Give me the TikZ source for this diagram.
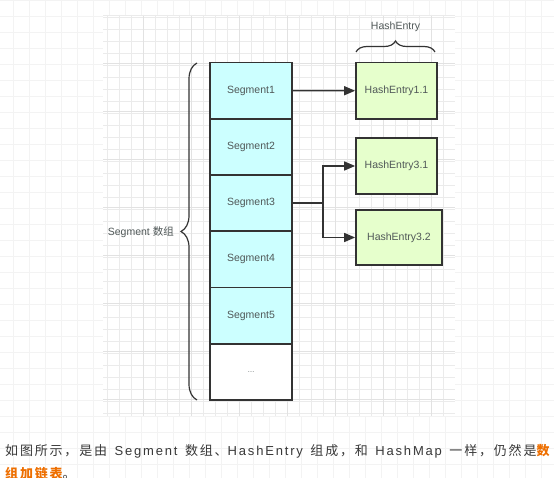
\documentclass[tikz,border=0pt]{standalone}
\usepackage{fontspec}
\setmainfont{Liberation Sans}
\newfontfamily\cjk{Noto Sans CJK SC}
\newfontfamily\zhwide[LetterSpace=14]{Noto Sans CJK SC}
\newfontfamily\enwide[LetterSpace=14]{Liberation Sans}
\usetikzlibrary{arrows.meta}
\usetikzlibrary{decorations.pathreplacing}
\usetikzlibrary{calc}
\definecolor{segfill}{HTML}{CCFFFF}
\definecolor{entryfill}{HTML}{E6FFCC}
\definecolor{boxline}{HTML}{333333}
\definecolor{labeltext}{HTML}{505858}
\definecolor{bodytext}{HTML}{383838}
\definecolor{accent}{HTML}{EE6F00}
\definecolor{pagegrid}{HTML}{F3F3F3}
\definecolor{canvasgrid}{HTML}{EBEBEB}
\definecolor{canvasmajor}{HTML}{E2E2E2}
\tikzstyle{segbox}=[rectangle,draw=boxline,line width=1.7pt,fill=segfill,minimum width=82pt,minimum height=56.25pt,inner sep=0pt,text=labeltext,font=\fontsize{10.5}{12}\selectfont]
\tikzstyle{entrybox}=[rectangle,draw=boxline,line width=1.7pt,fill=entryfill,inner sep=0pt,text=labeltext,font=\fontsize{10.5}{12}\selectfont]
\tikzstyle{link} = [draw,line width=1.5pt,boxline,-{Triangle[length=11pt,width=9pt]}]
\tikzstyle{bracket} = [draw,line width=1.2pt,boxline,decorate]
\tikzstyle{caption} = [text=labeltext,font=\fontsize{10.5}{12}\selectfont,inner sep=0pt]

\begin{document}
\begin{tikzpicture}[x=1pt,y=-1pt]
    \useasboundingbox (0,0) rectangle (554,478);
    % page background with its faint grid
    \fill[white] (0,0) rectangle (554,478);
    \foreach \gx in {13,29,...,554}
        \draw[pagegrid,line width=0.8pt] (\gx,0) -- (\gx,478);
    \foreach \gy in {0,16,...,478}
        \draw[pagegrid,line width=0.8pt] (0,\gy) -- (554,\gy);
    % the drawing canvas with its own grid
    \fill[white] (103,15) rectangle (455,416);
    \foreach \gx in {107,119,...,443}
        \draw[canvasgrid,line width=0.7pt] (\gx,15) -- (\gx,416);
    \foreach \gy in {17,29,...,413}
        \draw[canvasgrid,line width=0.7pt] (103,\gy) -- (455,\gy);
    \foreach \gx in {143,191,...,443}
        \draw[canvasmajor,line width=0.8pt] (\gx,15) -- (\gx,416);
    \foreach \gy in {63,111,...,413}
        \draw[canvasmajor,line width=0.8pt] (103,\gy) -- (455,\gy);
    \draw[canvasgrid,line width=0.8pt] (103,15) -- (455,15);

    % First we draw the segment array
    \foreach \i/\name/\label in {0/s1/Segment1, 1/s2/Segment2, 2/s3/Segment3, 3/s4/Segment4, 4/s5/Segment5}
        \node[segbox] (\name) at (251, 90.625+\i*56.25) {\label};
    \node[segbox, fill=white] (s6) at (251, 371.875) {\scriptsize\ldots};

    % then the hash entries
    \foreach \pos/\name/\label/\w/\h in {{(396.5,90.75)/e11/HashEntry1.1/81/56.5}, {(396.5,166)/e31/HashEntry3.1/81/56}, {(399,237.5)/e32/HashEntry3.2/86/55}}
        \node[entrybox, minimum width=\w pt, minimum height=\h pt] (\name) at \pos {\label};

    % Connect segments with their entries
    \coordinate (fork) at (323, 203.125);
    \path[link] (s1.east) -- (e11.west);
    \path[draw,line width=1.5pt,boxline] (s3.east) -- (fork);
    \path[link] (fork) |- (e31.west);
    \path[link] (fork) |- (e32.west);

    % braces and their labels
    \coordinate (brlow) at (197,400);
    \coordinate (brhigh) at (197,63);
    \path[bracket, decoration={brace,amplitude=16pt}] (brlow) -- (brhigh);
    \node[caption, anchor=east] (segarray) at (174,232) {Segment {\cjk 数组}};
    \coordinate (eleft) at (356,52);
    \coordinate (eright) at (435,52);
    \path[bracket, decoration={brace,amplitude=11pt}] (eleft) -- (eright);
    \node[caption] (entrylabel) at (395.5,27) {HashEntry};

    % text below the picture
    \begin{scope}[text=bodytext]
    \clip (0,0) rectangle (554,478);
    \node[anchor=base west, inner sep=0pt, font=\fontsize{13}{16}\selectfont] (line1) at (5,455.5)
        {{\zhwide 如图所示，是由}\hspace{7.5pt}{\enwide Segment}\hspace{7.5pt}{\zhwide 数组、}{\enwide HashEntry}\hspace{7.5pt}{\zhwide 组成，和}\hspace{7.5pt}{\enwide HashMap}\hspace{7.5pt}{\zhwide 一样，仍然是\textcolor{accent}{\bfseries 数}}};
    \node[anchor=base west, inner sep=0pt, font=\fontsize{13}{16}\selectfont] (line2) at (5,478.5)
        {{\zhwide\textcolor{accent}{\bfseries 组加链表}。}};
    \end{scope}
\end{tikzpicture}
\end{document}
